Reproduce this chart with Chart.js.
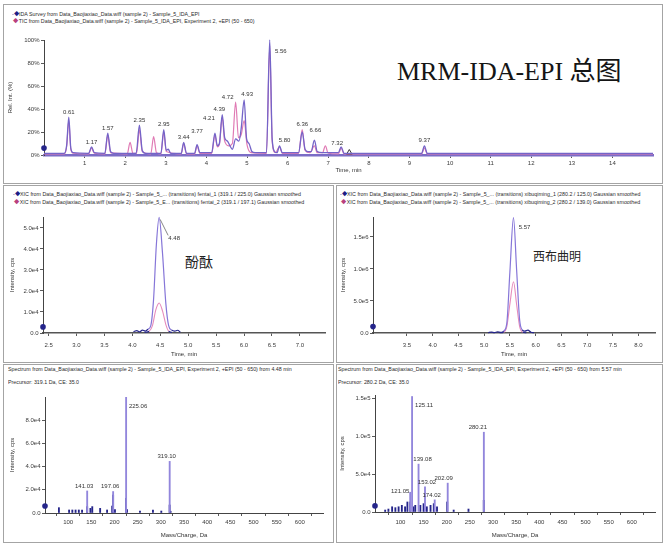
<!DOCTYPE html>
<html lang="zh-CN">
<head>
<meta charset="utf-8">
<title>MRM-IDA-EPI 总图</title>
<script src="https://cdn.jsdelivr.net/npm/chart.js@4.4.1/dist/chart.umd.min.js"></script>
<style>
  html, body { margin: 0; padding: 0; }
  body { width: 663px; height: 543px; position: relative; overflow: hidden; background: #fff;
         font-family: "Liberation Sans", Arial, sans-serif; }
  canvas { position: absolute; }
  .pane { position: absolute; box-sizing: border-box; border: 1px solid #a4a4a4; }
  .cap { position: absolute; white-space: nowrap; font-size: 10px; line-height: 10px; color: #2b2b2b;
         transform: scale(0.53); transform-origin: 0 0; }
  .mk1 { color: #1d1d86; } .mk2 { color: #b8407e; }
  .big { position: absolute; left: 397px; top: 50px; font-family: "Liberation Serif", "Noto Sans CJK SC", serif;
         font-size: 26px; color: #151515; white-space: nowrap; }
  .cn { position: absolute; font-family: "Noto Sans CJK SC", sans-serif; color: #222; white-space: nowrap; }
</style>
</head>
<body>
<div class="pane" style="left:3px;top:4px;width:660px;height:180px;"></div>
<div class="pane" style="left:3px;top:185px;width:331px;height:178px;"></div>
<div class="pane" style="left:336px;top:185px;width:327px;height:178px;"></div>
<div class="pane" style="left:3px;top:364px;width:331px;height:179px;"></div>
<div class="pane" style="left:336px;top:364px;width:327px;height:179px;"></div>

<div class="big">MRM-IDA-EPI 总图</div>
<div class="cn" style="left:185px;top:251px;font-size:14px;">酚酞</div>
<div class="cn" style="left:533px;top:247px;font-size:12px;">西布曲明</div>

<script>
// ---------------- chromatogram data (time in min) ----------------
const ticTimeTicks = [1, 2, 3, 4, 5, 6, 7, 8, 9, 10, 11, 12, 13, 14];
const ticPctTicks = [0, 20, 40, 60, 80, 100];

// IDA survey TIC, [min, % relative intensity]
const surveyTic = [[0,1.5],[0.50,1.5],[0.56,9],[0.61,33],[0.66,6],[0.72,2],[1.10,1.5],[1.17,7],[1.24,2],
  [1.50,1.5],[1.57,19],[1.64,3],[1.72,1.5],[2.27,1.5],[2.35,26],[2.42,4],[2.50,1.5],[2.88,1.5],[2.95,22],
  [3.01,4],[3.06,5],[3.12,1.5],[3.38,1.5],[3.44,11],[3.51,1.5],[3.71,1.5],[3.77,9],[3.84,2],[4.13,2],
  [4.21,19],[4.27,8],[4.32,10],[4.39,35],[4.45,15],[4.52,12],[4.58,8],[4.64,5],[4.72,14],[4.80,12],
  [4.86,24],[4.93,48],[4.99,14],[5.05,10],[5.12,3],[5.20,2],[5.48,2],[5.56,100],[5.62,14],[5.68,3],
  [5.74,2],[5.80,8],[5.87,2],[6.27,2],[6.36,20],[6.43,5],[6.50,3],[6.58,3],[6.66,13],[6.73,3],[6.86,2],
  [7.25,2],[7.32,7],[7.39,1.5],[9.30,1.5],[9.37,8],[9.44,1.5],[15,1.5]];

// EPI experiment TIC, [min, % relative intensity]
const epiTic = [[0,1],[0.50,1],[0.56,8],[0.61,30],[0.66,5],[0.72,1.5],[1.10,1],[1.17,6],[1.24,1.5],
  [1.50,1],[1.57,17],[1.64,2],[2.05,1],[2.12,11],[2.19,1.5],[2.28,1.5],[2.35,22],[2.42,3],[2.63,1],
  [2.70,16],[2.77,2],[2.88,1],[2.95,20],[3.01,3],[3.38,1],[3.44,10],[3.51,1],[3.71,1],[3.77,8],[3.84,1.5],
  [4.13,1.5],[4.21,17],[4.27,7],[4.32,9],[4.39,33],[4.45,12],[4.55,8],[4.64,10],[4.72,46],[4.79,15],
  [4.86,18],[4.93,30],[5.00,9],[5.10,2],[5.48,1.5],[5.56,95],[5.62,12],[5.70,2],[5.80,7],[5.87,1.5],
  [6.27,1.5],[6.36,22],[6.43,4],[6.55,2],[6.66,8],[6.73,2],[6.86,2],[6.93,8],[7.00,1.5],[7.25,1],
  [7.32,6],[7.39,1],[9.30,1],[9.37,6],[9.44,1],[15,1]];

const ticPeakTimes = [0.61, 1.17, 1.57, 2.35, 2.95, 3.44, 3.77, 4.21, 4.39, 4.72, 4.93, 5.56, 5.80, 6.36, 6.66, 7.32, 9.37];

// 酚酞 XIC window, [min, cps]
const phenolTimeTicks = [2.5, 3.0, 3.5, 4.0, 4.5, 5.0, 5.5, 6.0, 6.5, 7.0];
const phenolCpsTicks = [0, 1e4, 2e4, 3e4, 4e4, 5e4];
const phenolQuant = [[4.02,600],[4.08,1100],[4.13,500],[4.18,1400],[4.23,900],[4.28,1800],[4.33,3500],
  [4.38,16000],[4.43,42000],[4.48,55000],[4.54,38000],[4.60,14000],[4.65,3500],[4.70,1500],[4.76,900],
  [4.81,1300],[4.86,400]];
const phenolQual = [[4.22,300],[4.30,800],[4.36,3500],[4.42,11000],[4.48,14300],[4.54,10500],[4.60,4000],
  [4.65,900],[4.71,300]];
const phenolApex = [4.48];

// 西布曲明 XIC window, [min, cps]
const sibuTimeTicks = [3.5, 4.0, 4.5, 5.0, 5.5, 6.0, 6.5, 7.0, 7.5, 8.0];
const sibuCpsTicks = [0, 5e5, 1e6, 1.5e6];
const sibuQuant = [[5.08,6000],[5.14,14000],[5.20,5000],[5.26,18000],[5.32,9000],[5.38,30000],[5.44,150000],
  [5.50,950000],[5.57,1800000],[5.63,1000000],[5.69,200000],[5.74,50000],[5.79,30000],[5.85,45000],
  [5.91,12000],[5.97,5000]];
const sibuQual = [[5.30,3000],[5.38,12000],[5.44,100000],[5.50,450000],[5.57,800000],[5.63,450000],
  [5.69,100000],[5.75,12000],[5.82,4000]];
const sibuApex = [5.57];

// ---------------- EPI product-ion spectra (m/z, cps) ----------------
const massTicks = [100, 150, 200, 250, 300, 350, 400, 450, 500, 550, 600];

const phenolSpecTicks = [0, 2e4, 4e4, 6e4, 8e4];
const phenolFragMz  = [141.03, 197.06, 225.06, 319.10];
const phenolFragCps = [19000, 18500, 100000, 44500];
const phenolMinorMz  = [80, 102, 109, 116, 123, 130, 141, 148, 152, 169, 184, 195, 197, 201, 225, 227, 255, 283, 301, 319, 321];
const phenolMinorCps = [4600, 2600, 2600, 2600, 2600, 2600, 5500, 4000, 5500, 4000, 2600, 6000, 15500, 3000, 12700, 3000, 1700, 2600, 1700, 6900, 1500];

const sibuSpecTicks = [0, 5e4, 1e5, 1.5e5];
const sibuFragMz  = [121.05, 125.11, 139.08, 153.02, 174.02, 202.09, 280.21];
const sibuFragCps = [26000, 152000, 63000, 33000, 16000, 38000, 105000];
const sibuMinorMz  = [67, 74, 82, 89, 96, 103, 110, 115, 121, 128, 132, 143, 150, 157, 165, 172, 179, 201, 215, 247, 280];
const sibuMinorCps = [2600, 3900, 6900, 5700, 6900, 8800, 6900, 13200, 13200, 6900, 8800, 8800, 11000, 6900, 8800, 11000, 6900, 13200, 2600, 3900, 15400];

// ---------------- drawing ----------------
const FS = 6;
const LH = FS * 1.2;
Chart.defaults.font.family = "'Liberation Sans', Arial, sans-serif";
Chart.defaults.font.size = FS;
Chart.defaults.color = '#3c3c3c';

const BLUE = '#7464c8', PINK = '#e07ab4', NAVY = '#25258a', STICK = '#9286dc';

const pts = arr => arr.map(([x, y]) => ({ x, y }));
const sticks = (mz, cps) => mz.map((m, i) => ({ x: m, y: cps[i] }));
const sci = v => v === 0 ? '0.0' : v.toExponential(1).replace('e+', 'e');

// text above apex of the labelled peaks; value printed is the apex position itself
const peakLabels = {
  id: 'peakLabels',
  afterDatasetsDraw(chart, _args, opts) {
    if (!opts || !opts.items) return;
    const ctx = chart.ctx;
    ctx.save();
    ctx.font = FS + "px 'Liberation Sans', Arial, sans-serif";
    ctx.fillStyle = '#333';
    ctx.strokeStyle = '#555';
    ctx.lineWidth = 0.7;
    ctx.textAlign = 'center';
    ctx.textBaseline = 'bottom';
    opts.items.forEach(at => {
      let apex = null;
      chart.data.datasets.forEach((ds, di) => {
        if (!ds.peakSource) return;
        const meta = chart.getDatasetMeta(di);
        ds.data.forEach((p, i) => {
          if (Math.abs(p.x - at) < 1e-6) {
            const el = meta.data[i];
            if (!apex || el.y < apex.y) apex = { x: el.x, y: el.y };
          }
        });
      });
      if (!apex) return;
      const o = (opts.offsets && opts.offsets[at]) || [0, 0];
      const tx = apex.x + o[0], ty = apex.y - 2 + o[1];
      if (o[2]) {
        ctx.beginPath();
        ctx.moveTo(apex.x + 1, apex.y + 2);
        ctx.lineTo(tx - 6, ty - 6);
        ctx.stroke();
      }
      ctx.fillText(at.toFixed(opts.digits), tx, ty);
    });
    ctx.restore();
  }
};

function axis(o) {
  return {
    type: 'linear', min: o.min, max: o.max, offset: false,
    afterBuildTicks: s => { s.ticks = o.ticks.map(v => ({ value: v })); },
    afterFit: s => { if (o.horizontal) s.height = o.size; else s.width = o.size; },
    ticks: { autoSkip: false, maxRotation: 0, padding: o.pad, callback: o.fmt, color: '#3a3a3a' },
    grid: { display: true, drawOnChartArea: false, drawTicks: true, tickLength: 3, color: '#5a5a5a', lineWidth: 1 },
    border: { display: true, color: o.borderColor || '#444', width: o.borderWidth || 1 },
    title: { display: true, text: o.title, padding: 0, color: '#333' }
  };
}

function makeChart(s) {
  const { pane, area } = s;
  const c = document.createElement('canvas');
  c.width = pane.w; c.height = pane.h;
  c.style.left = pane.x + 'px'; c.style.top = pane.y + 'px';
  document.body.appendChild(c);

  const padL = s.yTitleX - LH / 2 - pane.x;
  const W = area.l - pane.x - padL;
  const boxTop = area.b - pane.y;
  const boxBottom = s.xTitleY + LH / 2 - pane.y;
  const H = boxBottom - boxTop;
  const xPad = s.xTickY - area.b - 3 - LH / 2;

  return new Chart(c, {
    type: s.type,
    data: { datasets: s.datasets },
    options: {
      responsive: false, animation: false, events: [],
      layout: { padding: { left: padL, right: pane.x + pane.w - area.r, top: area.t - pane.y, bottom: pane.h - boxBottom } },
      plugins: { legend: { display: false }, tooltip: { enabled: false }, peakLabels: s.labels || {} },
      scales: {
        x: axis(Object.assign({ horizontal: true, size: H, pad: xPad }, s.x)),
        y: axis(Object.assign({ horizontal: false, size: W, pad: 1.5 }, s.y))
      }
    },
    plugins: [peakLabels]
  });
}

function caption(x, cy, parts) {
  const d = document.createElement('div');
  d.className = 'cap';
  d.style.left = x + 'px';
  d.style.top = (cy - 2.6) + 'px';
  d.innerHTML = parts;
  document.body.appendChild(d);
}

function originDot(x, y) {
  return { type: 'line', data: [{ x, y }], showLine: false, pointRadius: 2.8, pointBorderWidth: 0,
           pointBackgroundColor: NAVY, clip: false };
}

function trace(data, color, width, navyBelow) {
  return {
    type: 'line', data: pts(data), peakSource: true, borderColor: color, borderWidth: width,
    pointRadius: 0, cubicInterpolationMode: 'monotone', clip: false,
    segment: navyBelow ? { borderColor: c => (c.p0.parsed.y < navyBelow && c.p1.parsed.y < navyBelow) ? NAVY : color } : undefined
  };
}

function stickSet(data, color, label) {
  return { type: 'bar', data, backgroundColor: color, barThickness: 1.2, grouped: false, peakSource: label };
}

// --- total ion chromatogram ---
caption(12, 15, '<span class="mk1">-◆</span>IDA Survey from Data_Baojiaxiao_Data.wiff (sample 2) - Sample_5_IDA_EPI');
caption(12, 22, '<span class="mk2">&nbsp;◆</span>TIC from Data_Baojiaxiao_Data.wiff (sample 2) - Sample_5_IDA_EPI, Experiment 2, +EPI (50 - 650)');
makeChart({
  type: 'line',
  pane: { x: 4, y: 5, w: 659, h: 179 },
  area: { l: 44, t: 40, r: 653, b: 155 },
  xTickY: 163, xTitleY: 170, yTitleX: 10,
  datasets: [
    trace(surveyTic, BLUE, 1.3),
    trace(epiTic, PINK, 1.2),
    originDot(0, 6),
    { type: 'line', data: [{ x: 7.52, y: 2 }], showLine: false, pointStyle: 'triangle', pointRadius: 3.2,
      pointBackgroundColor: 'rgba(0,0,0,0)', pointBorderColor: '#333', pointBorderWidth: 1, clip: false }
  ],
  labels: { items: ticPeakTimes, digits: 2,
            offsets: { 3.77: [0, -8], 4.21: [-6, -10], 4.39: [-3, 0], 4.72: [-8, 0], 4.93: [3, 0],
                       5.56: [11, 16], 5.80: [5, 0], 6.66: [1, -5], 7.32: [-4, 1] } },
  x: { min: 0, max: 15, ticks: ticTimeTicks, fmt: v => String(v), title: 'Time, min',
       borderColor: '#7b6cc6', borderWidth: 2.5 },
  y: { min: 0, max: 100, ticks: ticPctTicks, fmt: v => v + '%', title: 'Rel. Int. (%)' }
});

// --- 酚酞 XIC ---
caption(13, 195, '<span class="mk1">-◆</span>XIC from Data_Baojiaxiao_Data.wiff (sample 2) - Sample_5_... (transitions) fentai_1 (319.1 / 225.0) Gaussian smoothed');
caption(13, 203, '<span class="mk2">&nbsp;◆</span>XIC from Data_Baojiaxiao_Data.wiff (sample 2) - Sample_5_E... (transitions) fentai_2 (319.1 / 197.1) Gaussian smoothed');
makeChart({
  type: 'line',
  pane: { x: 4, y: 186, w: 329, h: 176 },
  area: { l: 43, t: 217, r: 325, b: 333 },
  xTickY: 345, xTitleY: 354, yTitleX: 12,
  datasets: [
    trace(phenolQuant, '#8676d8', 1.2, 3000),
    trace(phenolQual, '#e68bbb', 1.1, 1500),
    originDot(2.4, 2900)
  ],
  labels: { items: phenolApex, digits: 2, offsets: { 4.48: [15, 26, 1] } },
  x: { min: 2.4, max: 7.45, ticks: phenolTimeTicks, fmt: v => v.toFixed(1), title: 'Time, min',
       borderColor: '#555', borderWidth: 1.5 },
  y: { min: 0, max: 55200, ticks: phenolCpsTicks, fmt: sci, title: 'Intensity, cps' }
});

// --- 西布曲明 XIC ---
caption(340, 195, '<span class="mk1">-◆</span>XIC from Data_Baojiaxiao_Data.wiff (sample 2) - Sample_5_... (transitions) xibuqiming_1 (280.2 / 125.0) Gaussian smoothed');
caption(340, 203, '<span class="mk2">&nbsp;◆</span>XIC from Data_Baojiaxiao_Data.wiff (sample 2) - Sample_5_... (transitions) xibuqiming_2 (280.2 / 139.0) Gaussian smoothed');
makeChart({
  type: 'line',
  pane: { x: 337, y: 186, w: 326, h: 176 },
  area: { l: 373, t: 217, r: 655, b: 333 },
  xTickY: 345, xTitleY: 354, yTitleX: 343,
  datasets: [
    trace(sibuQuant, '#8676d8', 1.2, 70000),
    trace(sibuQual, '#e68bbb', 1.1, 20000),
    originDot(2.84, 100000)
  ],
  labels: { items: sibuApex, digits: 2, offsets: { 5.57: [11, 15] } },
  x: { min: 2.84, max: 8.32, ticks: sibuTimeTicks, fmt: v => v.toFixed(1), title: 'Time, min',
       borderColor: '#555', borderWidth: 1.5 },
  y: { min: 0, max: 1.81e6, ticks: sibuCpsTicks, fmt: sci, title: 'Intensity, cps' }
});

// --- 酚酞 EPI spectrum ---
caption(8, 370, 'Spectrum from Data_Baojiaxiao_Data.wiff (sample 2) - Sample_5_IDA_EPI, Experiment 2, +EPI (50 - 650) from 4.48 min');
caption(8, 383, 'Precursor: 319.1 Da, CE: 35.0');
makeChart({
  type: 'bar',
  pane: { x: 4, y: 365, w: 329, h: 178 },
  area: { l: 45, t: 397, r: 323, b: 513 },
  xTickY: 522, xTitleY: 535, yTitleX: 12,
  datasets: [
    stickSet(sticks(phenolFragMz, phenolFragCps), STICK, true),
    stickSet(sticks(phenolMinorMz, phenolMinorCps), NAVY, false),
    originDot(50, 6000)
  ],
  labels: { items: phenolFragMz, digits: 2,
            offsets: { 141.03: [-3, 0], 197.06: [-3, 0], 225.06: [12, 14], 319.10: [-3, 0] } },
  x: { min: 50, max: 650, ticks: massTicks, fmt: v => String(v), title: 'Mass/Charge, Da' },
  y: { min: 0, max: 100000, ticks: phenolSpecTicks, fmt: sci, title: 'Intensity, cps' }
});

// --- 西布曲明 EPI spectrum ---
caption(338, 370, 'Spectrum from Data_Baojiaxiao_Data.wiff (sample 2) - Sample_5_IDA_EPI, Experiment 2, +EPI (50 - 650) from 5.57 min');
caption(338, 383, 'Precursor: 280.2 Da, CE: 35.0');
makeChart({
  type: 'bar',
  pane: { x: 337, y: 365, w: 326, h: 178 },
  area: { l: 375, t: 395, r: 655, b: 512 },
  xTickY: 522, xTitleY: 535, yTitleX: 342,
  datasets: [
    stickSet(sticks(sibuFragMz, sibuFragCps), STICK, true),
    stickSet(sticks(sibuMinorMz, sibuMinorCps), NAVY, false),
    originDot(45, 8000)
  ],
  labels: { items: sibuFragMz, digits: 2,
            offsets: { 121.05: [-10, 4], 125.11: [12, 14], 139.08: [4, 0], 153.02: [2, 0],
                       174.02: [-3, 0], 202.09: [-4, 0], 280.21: [-6, 0] } },
  x: { min: 45, max: 650, ticks: massTicks, fmt: v => String(v), title: 'Mass/Charge, Da' },
  y: { min: 0, max: 154000, ticks: sibuSpecTicks, fmt: sci, title: 'Intensity, cps' }
});
</script>
</body>
</html>
